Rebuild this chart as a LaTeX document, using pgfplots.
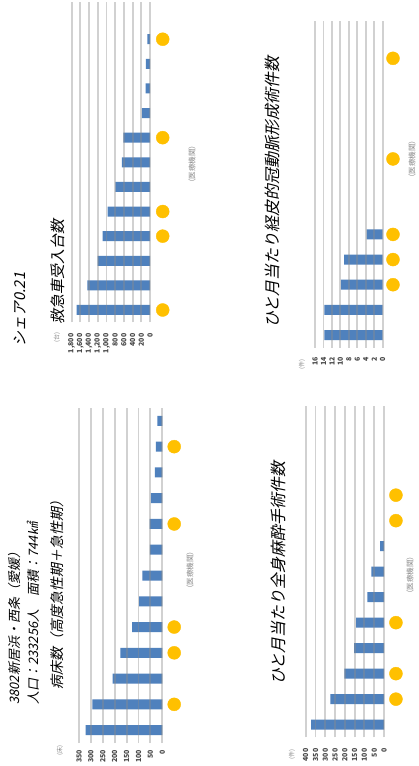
\documentclass[border=0pt]{standalone}
\usepackage{fontspec}
\setmainfont{Noto Sans CJK JP}
\newfontfamily\jpit[FakeSlant=0.2]{Noto Sans CJK JP}
\usepackage{pgfplots}
\pgfplotsset{compat=1.18}

\definecolor{barblue}{RGB}{79,129,189}
\definecolor{dotgold}{RGB}{255,192,0}
\definecolor{gridgray}{RGB}{140,140,140}
\definecolor{ticktext}{RGB}{70,70,70}
\definecolor{notegray}{RGB}{140,140,140}

\pgfplotsset{
  hbarpanel/.style={
    scale only axis,
    x dir=reverse,
    xmin=0,
    ymin=0.5, ymax=13.5,
    ytick=\empty,
    axis line style={draw=none},
    major tick length=0pt,
    xmajorgrids,
    grid style={gridgray, opacity=0.4, line width=1.9pt},
    axis on top,
    clip=false,
    xticklabel style={rotate=90, anchor=east, inner sep=0pt,
      font=\bfseries\fontsize{7}{8}\selectfont, text=ticktext},
    /pgf/number format/assume math mode=true,
  },
  bars/.style={xbar, bar width=10pt, fill=barblue, draw=none},
  dots/.style={only marks, color=dotgold, mark=*, mark size=6.5pt,
    mark options={fill=dotgold, draw=none}},
}

\begin{document}
\begin{tikzpicture}
\path[use as bounding box, fill=white] (0pt,0pt) rectangle (419pt,-766pt);

% 病床数（高度急性期＋急性期）
\begin{axis}[hbarpanel, anchor=south east, at={(162.3pt,-743pt)},
  width=83.3pt, height=335pt, xmax=350, xtick={0,50,...,350},
  xticklabel shift=7pt]
  \addplot[bars] coordinates {(322,1) (294,2) (209,3) (176,4) (127,5) (97,6)
    (84,7) (52,8) (53,9) (48,10) (31,11) (27,12) (21,13)};
  \addplot[dots] coordinates {(-50,2) (-50,4) (-50,5) (-50,9) (-50,12)};
\end{axis}

% 救急車受入台数
\begin{axis}[hbarpanel, anchor=south east, at={(150pt,-322.3pt)},
  width=78.3pt, height=320pt, xmax=1800, xtick={0,200,...,1800},
  xticklabel shift=11pt]
  \addplot[bars] coordinates {(1686,1) (1441,2) (1203,3) (1088,4) (973,5)
    (797,6) (644,7) (613,8) (184,9) (100,10) (92,11) (61,12)};
  \addplot[dots] coordinates {(-292,1) (-292,4) (-292,5) (-292,8) (-292,12)};
\end{axis}

% ひと月当たり経皮的冠動脈形成術件数
\begin{axis}[hbarpanel, anchor=south east, at={(382.7pt,-347.6pt)},
  width=67.7pt, height=327pt, xmax=16, xtick={0,2,...,16},
  xticklabel shift=9.5pt]
  \addplot[bars] coordinates {(13.8,1) (13.8,2) (9.9,3) (9.1,4) (3.8,5)};
  \addplot[dots] coordinates {(-2.43,3) (-2.43,4) (-2.43,5) (-2.43,8) (-2.43,12)};
\end{axis}

% ひと月当たり全身麻酔手術件数
\begin{axis}[hbarpanel, anchor=south east, at={(384pt,-737.4pt)},
  width=78.3pt, height=331.5pt, xmax=400, xtick={0,50,...,400},
  xticklabel shift=11pt]
  \addplot[bars] coordinates {(372,1) (274,2) (202,3) (152,4) (143,5)
    (85,6) (65,7) (20,8)};
  \addplot[dots] coordinates {(-61,2) (-61,3) (-61,5) (-61,9) (-61,10)};
\end{axis}

% titles
\node[rotate=90, anchor=west, inner sep=0pt, font=\jpit\fontsize{13}{13}\selectfont]
  at (15pt,-705pt) {3802新居浜・西条（愛媛）};
\node[rotate=90, anchor=west, inner sep=0pt, font=\jpit\fontsize{13}{13}\selectfont]
  at (33pt,-705pt) {人口：233256人　面積：744㎢};
\node[rotate=90, anchor=west, inner sep=0pt, font=\jpit\fontsize{14}{14}\selectfont]
  at (57pt,-690pt) {病床数（高度急性期＋急性期）};
\node[rotate=90, anchor=west, inner sep=0pt, font=\jpit\fontsize{15}{15}\selectfont]
  at (20pt,-347pt) {シェア0.21};
\node[rotate=90, anchor=west, inner sep=0pt, font=\jpit\fontsize{15}{15}\selectfont]
  at (58pt,-325pt) {救急車受入台数};
\node[rotate=90, anchor=west, inner sep=0pt, font=\jpit\fontsize{16}{16}\selectfont]
  at (272pt,-328pt) {ひと月当たり経皮的冠動脈形成術件数};
\node[rotate=90, anchor=west, inner sep=0pt, font=\jpit\fontsize{16}{16}\selectfont]
  at (278pt,-685pt) {ひと月当たり全身麻酔手術件数};

% category axis notes
\foreach \px/\py in {190/570, 192/164, 412/159, 410/575}
  \node[rotate=90, inner sep=0pt, text=notegray, font=\fontsize{7.5}{8}\selectfont]
    at (\px pt,-\py pt) {（医療機関）};

% value axis units
\node[rotate=90, inner sep=0pt, text=notegray, font=\fontsize{6}{6}\selectfont]
  at (60pt,-750pt) {(床)};
\node[rotate=90, inner sep=0pt, text=notegray, font=\fontsize{6}{6}\selectfont]
  at (57pt,-337pt) {(台)};
\node[rotate=90, inner sep=0pt, text=notegray, font=\fontsize{6}{6}\selectfont]
  at (302pt,-364pt) {(件)};
\node[rotate=90, inner sep=0pt, text=notegray, font=\fontsize{6}{6}\selectfont]
  at (292pt,-754pt) {(件)};
\end{tikzpicture}
\end{document}
